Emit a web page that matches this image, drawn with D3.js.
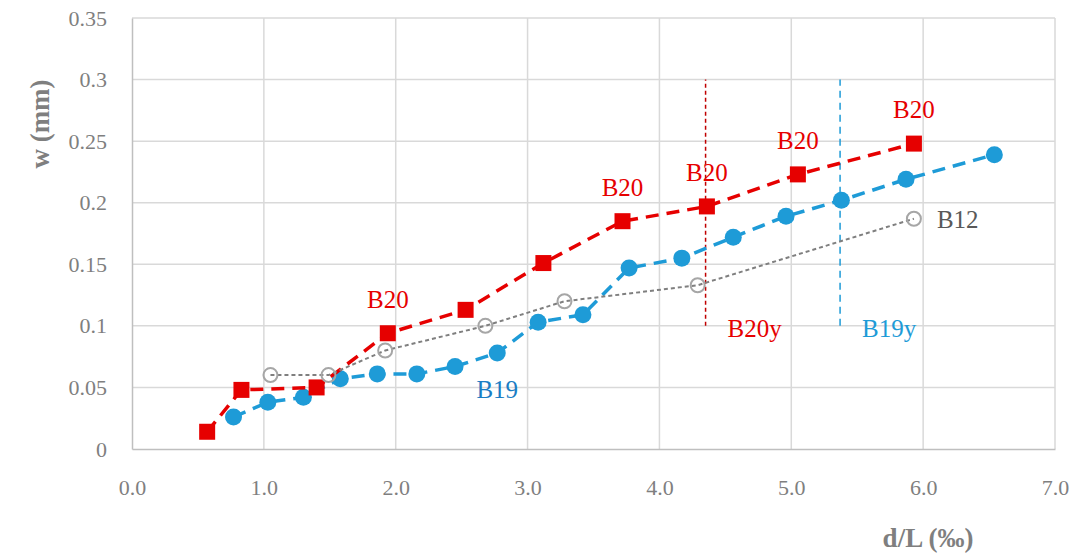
<!DOCTYPE html>
<html>
<head>
<meta charset="utf-8">
<script src="https://cdn.jsdelivr.net/npm/d3@7"></script>
<style>
  html, body { margin: 0; padding: 0; background: #fff; }
  svg { display: block; }
</style>
</head>
<body>
<svg id="chart" width="1074" height="554"></svg>
<script>
// Crack width w against drift ratio d/L for three beams
const b20X = [0.57, 0.83, 1.40, 1.94, 2.53, 3.12, 3.72, 4.36, 5.05, 5.93];
const b20W = [0.014, 0.048, 0.050, 0.094, 0.113, 0.151, 0.185, 0.197, 0.223, 0.248];

const b19X = [0.77, 1.03, 1.30, 1.58, 1.86, 2.16, 2.45, 2.77, 3.08, 3.42, 3.77, 4.17, 4.56, 4.96, 5.38, 5.87, 6.54];
const b19W = [0.026, 0.038, 0.042, 0.057, 0.061, 0.061, 0.067, 0.078, 0.103, 0.109, 0.147, 0.155, 0.172, 0.189, 0.202, 0.219, 0.239];

const b12X = [1.05, 1.49, 1.92, 2.68, 3.28, 4.29, 5.93];
const b12W = [0.060, 0.060, 0.080, 0.100, 0.120, 0.133, 0.187];

// Yield drift markers
const yieldNames = ["B20y", "B19y"];
const yieldX = [4.35, 5.37];
const yieldRange = [0.1, 0.3];

// Points of B20 that carry a label
const b20Labelled = [3, 6, 7, 8, 9];

const xTicks = [0, 1, 2, 3, 4, 5, 6, 7];
const yTicks = [0, 0.05, 0.1, 0.15, 0.2, 0.25, 0.3, 0.35];

const svg = d3.select("#chart");
const m = { left: 132, right: 1055, top: 18, bottom: 449 };

const x = d3.scaleLinear().domain([0, 7]).range([m.left, m.right]);
const y = d3.scaleLinear().domain([0, 0.35]).range([m.bottom, m.top]);

const serif = "'Liberation Serif', 'DejaVu Serif', serif";
const red = "#e60000", blue = "#1e9bd7", grey = "#7f7f7f";

// Grid
const grid = svg.append("g");
grid.selectAll(".gx").data(xTicks.slice(1)).join("line")
  .attr("x1", d => x(d)).attr("x2", d => x(d))
  .attr("y1", m.top).attr("y2", m.bottom)
  .attr("stroke", "#d9d9d9").attr("stroke-width", 1.5);
grid.selectAll(".gy").data(yTicks.slice(1)).join("line")
  .attr("x1", m.left).attr("x2", m.right)
  .attr("y1", d => y(d)).attr("y2", d => y(d))
  .attr("stroke", "#d9d9d9").attr("stroke-width", 1.5);

// Axes
const xAxis = svg.append("g").attr("transform", `translate(0,${m.bottom})`)
  .call(d3.axisBottom(x).tickValues(xTicks).tickSize(0).tickPadding(30).tickFormat(d3.format(".1f")));
const yAxis = svg.append("g").attr("transform", `translate(${m.left},0)`)
  .call(d3.axisLeft(y).tickValues(yTicks).tickSize(0).tickPadding(25).tickFormat(d => d === 0 ? "0" : String(+d.toFixed(2))));
[xAxis, yAxis].forEach(a => {
  a.select(".domain").attr("stroke", "#bfbfbf").attr("stroke-width", 1.5);
  a.selectAll("text").attr("font-family", serif).attr("font-size", 22).attr("fill", grey);
});

// Axis titles
svg.append("text").attr("transform", `translate(40,124) rotate(-90)`)
  .attr("text-anchor", "middle").attr("dominant-baseline", "central")
  .attr("font-family", serif).attr("font-weight", "bold")
  .attr("font-size", 27).attr("fill", grey).text("w (mm)");
svg.append("text").attr("x", 928).attr("y", 547)
  .attr("text-anchor", "middle").attr("font-family", serif).attr("font-weight", "bold")
  .attr("font-size", 27).attr("fill", grey).text("d/L (‰)");

// Yield lines
const yColors = ["#c00000", blue];
const yDash = ["4,3", "7,5"];
yieldX.forEach((v, i) => {
  svg.append("line")
    .attr("x1", x(v)).attr("x2", x(v))
    .attr("y1", y(yieldRange[0])).attr("y2", y(yieldRange[1]))
    .attr("stroke", yColors[i]).attr("stroke-width", 1.5)
    .attr("stroke-dasharray", yDash[i]);
});

const line = d3.line().x(d => x(d[0])).y(d => y(d[1]));
const b19 = d3.zip(b19X, b19W);
const b20 = d3.zip(b20X, b20W);
const b12 = d3.zip(b12X, b12W);

// B19
svg.append("path").datum(b19).attr("d", line).attr("fill", "none")
  .attr("stroke", blue).attr("stroke-width", 3.5).attr("stroke-dasharray", "13,8");
svg.append("g").selectAll("circle").data(b19).join("circle")
  .attr("cx", d => x(d[0])).attr("cy", d => y(d[1])).attr("r", 8.5).attr("fill", blue);

// B20
svg.append("path").datum(b20).attr("d", line).attr("fill", "none")
  .attr("stroke", red).attr("stroke-width", 3.5).attr("stroke-dasharray", "13,8");
svg.append("g").selectAll("rect").data(b20).join("rect")
  .attr("x", d => x(d[0]) - 8).attr("y", d => y(d[1]) - 8)
  .attr("width", 16).attr("height", 16).attr("fill", red);

// B12
svg.append("path").datum(b12).attr("d", line).attr("fill", "none")
  .attr("stroke", "#7f7f7f").attr("stroke-width", 2).attr("stroke-dasharray", "4,3");
svg.append("g").selectAll("circle").data(b12).join("circle")
  .attr("cx", d => x(d[0])).attr("cy", d => y(d[1])).attr("r", 7)
  .attr("fill", "none").attr("stroke", "#a6a6a6").attr("stroke-width", 2);

// Labels
const lbl = (tx, ty, txt, col, anchor) => svg.append("text")
  .attr("x", tx).attr("y", ty).attr("text-anchor", anchor || "middle")
  .attr("dominant-baseline", "central")
  .attr("font-family", serif).attr("font-size", 25).attr("fill", col).text(txt);

b20Labelled.forEach(i => lbl(x(b20X[i]), y(b20W[i]) - 34, "B20", red));
lbl(x(b12X[b12X.length - 1]) + 23, y(b12W[b12W.length - 1]) + 1, "B12", "#595959", "start");
lbl(x(b19X[7]), y(b19W[7]) + 37, "B19", "#1a7dc4");
yieldX.forEach((v, i) => lbl(x(v) + 22, y(yieldRange[0]) + 3, yieldNames[i], i === 0 ? red : blue, "start"));
</script>
</body>
</html>
